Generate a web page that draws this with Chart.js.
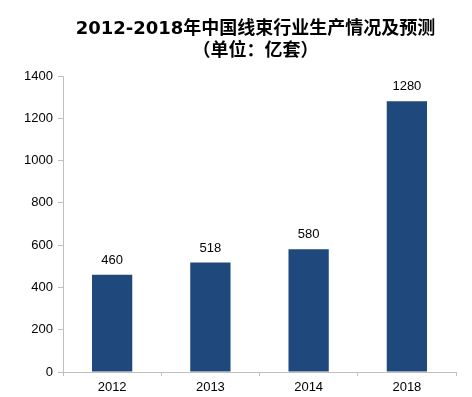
<!DOCTYPE html>
<html>
<head>
<meta charset="utf-8">
<script src="https://cdn.jsdelivr.net/npm/chart.js@4/dist/chart.umd.min.js"></script>
<style>
  html, body { margin: 0; padding: 0; background: #fff; }
  #wrap { width: 472px; height: 397px; }
</style>
</head>
<body>
<div id="wrap"><canvas id="c" width="472" height="397"></canvas></div>
<script>
var years = ['2012', '2013', '2014', '2018'];
var output = [460, 518, 580, 1280];
var yTicks = [0, 200, 400, 600, 800, 1000, 1200, 1400];

var titleLines = ['2012-2018年中国线束行业生产情况及预测', '（单位：亿套）'];

// draws the two title lines and the value above each bar
var labelsPlugin = {
    id: 'labels',
    afterDatasetsDraw: function (chart) {
        var ctx = chart.ctx;
        var area = chart.chartArea;
        ctx.save();
        ctx.fillStyle = '#000';
        ctx.textAlign = 'center';
        ctx.textBaseline = 'middle';
        ctx.font = 'bold 18px "DejaVu Sans", "Noto Sans CJK SC", sans-serif';
        var cx = (area.left + area.right) / 2 - 4;
        ctx.fillText(titleLines[0], cx, 29);
        ctx.fillText(titleLines[1], cx, 51);

        ctx.font = '13px "Liberation Sans", Arial, sans-serif';
        ctx.textBaseline = 'bottom';
        var meta = chart.getDatasetMeta(0);
        meta.data.forEach(function (bar, i) {
            ctx.fillText(output[i], bar.x, bar.y - 8);
        });
        ctx.restore();
    }
};

new Chart(document.getElementById('c'), {
    type: 'bar',
    data: {
        labels: years,
        datasets: [{
            data: output,
            backgroundColor: '#1f497d',
            categoryPercentage: 1,
            barPercentage: 0.41
        }]
    },
    options: {
        responsive: false,
        animation: false,
        layout: { padding: { top: 76, right: 16, left: 0, bottom: 0 } },
        plugins: {
            legend: { display: false },
            title: { display: false },
            tooltip: { enabled: false }
        },
        scales: {
            x: {
                grid: { display: true, drawOnChartArea: false, offset: true, color: '#bfbfbf', tickLength: 4 },
                border: { color: '#bfbfbf', width: 1 },
                ticks: { color: '#000', font: { size: 13, family: '"Liberation Sans", Arial, sans-serif' }, padding: 4 },
                afterFit: function (s) { s.height = 25; }
            },
            y: {
                min: 0,
                max: 1400,
                afterBuildTicks: function (s) { s.ticks = yTicks.map(function (v) { return { value: v }; }); },
                grid: { display: true, drawOnChartArea: false, color: '#bfbfbf', tickLength: 5 },
                border: { color: '#bfbfbf', width: 1 },
                ticks: {
                    color: '#000',
                    font: { size: 13, family: '"Liberation Sans", Arial, sans-serif' },
                    padding: 5,
                    callback: function (v) { return String(v); }
                },
                afterFit: function (s) { s.width = 63; }
            }
        }
    },
    plugins: [labelsPlugin]
});
</script>
</body>
</html>
